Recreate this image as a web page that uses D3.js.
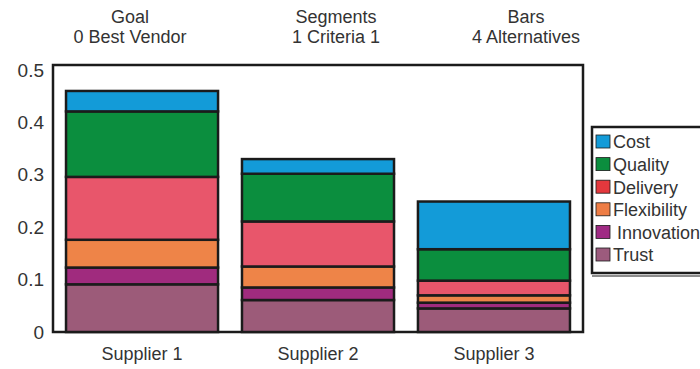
<!DOCTYPE html>
<html>
<head>
<meta charset="utf-8">
<script src="https://cdn.jsdelivr.net/npm/d3@7"></script>
<style>
  body { margin: 0; background: #fff; }
  svg { display: block; font-family: "Liberation Sans", Arial, sans-serif; }
</style>
</head>
<body>
<svg id="canvas" width="700" height="369"></svg>
<script>
const suppliers = ["Supplier 1", "Supplier 2", "Supplier 3"];
const criteria = ["Cost", "Quality", "Delivery", "Flexibility", "Innovation", "Trust"];

const cost        = [0.039, 0.028, 0.091];
const quality     = [0.125, 0.091, 0.060];
const delivery    = [0.120, 0.086, 0.028];
const flexibility = [0.053, 0.040, 0.014];
const innovation  = [0.032, 0.024, 0.011];
const trust       = [0.091, 0.061, 0.045];

const yTicks = [0, 0.1, 0.2, 0.3, 0.4, 0.5];
const headers = [["Goal", "0 Best Vendor"], ["Segments", "1 Criteria 1"], ["Bars", "4 Alternatives"]];

const barColors = ["#139bd8", "#0b8e3e", "#e8566b", "#ee8448", "#a02b7e", "#9c5b79"];
const legendColors = ["#139bd8", "#0b8e3e", "#e4383d", "#ee7d45", "#a02b84", "#9c5b7d"];

const svg = d3.select("#canvas");
const ink = "#1b1b1b";
const textCol = "#333";

// table for stacking
const series = [cost, quality, delivery, flexibility, innovation, trust];
const table = suppliers.map((s, i) => {
  const row = { supplier: s };
  criteria.forEach((c, k) => { row[c] = series[k][i]; });
  return row;
});

const stackOrder = criteria.slice().reverse(); // Trust at the bottom
const stacked = d3.stack().keys(stackOrder)(table);

const color = d3.scaleOrdinal().domain(criteria).range(barColors);

const x = d3.scaleBand()
  .domain(suppliers)
  .range([53, 583])
  .paddingInner(0.136)
  .paddingOuter(0.074);

const y = d3.scaleLinear().domain([0, 0.5]).range([332, 70]);

// plot frame
svg.append("rect")
  .attr("x", 53)
  .attr("y", y(0.5) - 5)
  .attr("width", 530)
  .attr("height", y(0) - y(0.5) + 5)
  .attr("fill", "none")
  .attr("stroke", ink)
  .attr("stroke-width", 2.5);

// stacked bars
const layer = svg.append("g").selectAll("g")
  .data(stacked)
  .join("g")
  .attr("fill", d => color(d.key));

layer.selectAll("rect")
  .data(d => d)
  .join("rect")
  .attr("x", d => x(d.data.supplier))
  .attr("width", x.bandwidth())
  .attr("y", d => y(d[1]))
  .attr("height", d => y(d[0]) - y(d[1]))
  .attr("stroke", ink)
  .attr("stroke-width", 2.5);

// y axis labels
const yAxis = d3.axisLeft(y)
  .tickValues(yTicks)
  .tickFormat(d => d === 0 ? "0" : d3.format(".1f")(d))
  .tickSize(0)
  .tickPadding(8);

svg.append("g")
  .attr("transform", "translate(52,0)")
  .call(yAxis)
  .call(g => g.select(".domain").remove())
  .selectAll("text")
  .attr("font-size", 19)
  .attr("fill", textCol)
  .attr("font-family", "Liberation Sans, Arial, sans-serif");

// x axis labels
const xAxis = d3.axisBottom(x).tickSize(0).tickPadding(15);
svg.append("g")
  .attr("transform", `translate(0,${y(0)})`)
  .call(xAxis)
  .call(g => g.select(".domain").remove())
  .selectAll("text")
  .attr("font-size", 18)
  .attr("fill", textCol)
  .attr("font-family", "Liberation Sans, Arial, sans-serif");

// header texts
const headerX = [130, 336, 526];
headers.forEach((lines, i) => {
  lines.forEach((t, j) => {
    svg.append("text")
      .attr("x", headerX[i])
      .attr("y", 23 + j * 20)
      .attr("text-anchor", "middle")
      .attr("font-size", 18)
      .attr("fill", textCol)
      .text(t);
  });
});

// legend
const legend = svg.append("g").attr("transform", "translate(592,127)");
legend.append("rect")
  .attr("width", 120)
  .attr("height", 146)
  .attr("fill", "#fff")
  .attr("stroke", ink)
  .attr("stroke-width", 2.5);
legend.append("line")
  .attr("x1", 0).attr("x2", 120)
  .attr("y1", 149).attr("y2", 149)
  .attr("stroke", ink)
  .attr("stroke-width", 1.2);

const item = legend.selectAll("g.item")
  .data(criteria)
  .join("g")
  .attr("class", "item")
  .attr("transform", (d, i) => `translate(4,${15 + i * 22.6})`);

item.append("rect")
  .attr("x", 0)
  .attr("y", -7)
  .attr("width", 14)
  .attr("height", 13)
  .attr("fill", (d, i) => legendColors[i])
  .attr("stroke", ink)
  .attr("stroke-width", 0.8);

item.append("text")
  .attr("x", (d, i) => d === "Innovation" ? 21 : 17)
  .attr("y", 0)
  .attr("dy", "0.35em")
  .attr("font-size", 18)
  .attr("fill", textCol)
  .text(d => d);
</script>
</body>
</html>
